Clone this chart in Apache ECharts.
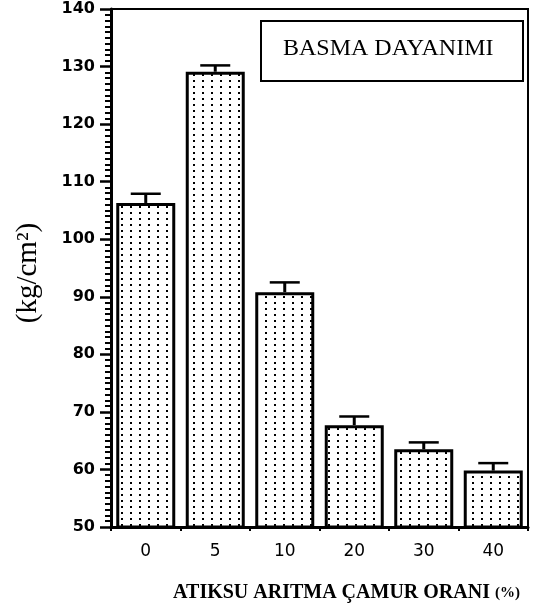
<!DOCTYPE html>
<html>
<head>
<meta charset="utf-8">
<script src="https://cdn.jsdelivr.net/npm/echarts@6/dist/echarts.min.js"></script>
<style>
  html, body { margin: 0; padding: 0; background: #fff; }
  #chart { width: 534px; height: 614px; }
</style>
</head>
<body>
<div id="chart"></div>
<script>
const categories = ['0', '5', '10', '20', '30', '40'];
const strength = [106.3, 129.1, 90.8, 67.7, 63.5, 59.8];
const errors = [1.6, 1.1, 1.7, 1.5, 1.2, 1.3];
const yTicks = [50, 60, 70, 80, 90, 100, 110, 120, 130, 140];

// dotted fill pattern
const tile = document.createElement('canvas');
tile.width = 9; tile.height = 6;
const tctx = tile.getContext('2d');
tctx.fillStyle = '#fff';
tctx.fillRect(0, 0, 9, 6);
tctx.fillStyle = '#000';
tctx.fillRect(4, 2, 2, 2);

const errData = categories.map((c, i) => [i, strength[i], strength[i] + errors[i]]);

const chart = echarts.init(document.getElementById('chart'), null, { renderer: 'canvas' });
chart.setOption({
  animation: false,
  backgroundColor: '#fff',
  grid: {
    left: 111, right: 6, top: 9, bottom: 87,
    show: true, borderColor: '#000', borderWidth: 2, backgroundColor: 'transparent'
  },
  xAxis: {
    type: 'category',
    data: categories,
    axisLine: { lineStyle: { color: '#000', width: 3 } },
    axisTick: { show: true, length: 4, lineStyle: { color: '#000', width: 2 } },
    axisLabel: {
      color: '#000', fontFamily: 'DejaVu Sans', fontSize: 17, margin: 16
    },
    name: 'ATIKSU ARITMA ÇAMUR ORANI {s|(%)}',
    nameLocation: 'middle',
    nameGap: 56,
    nameTextStyle: {
      color: '#000', fontFamily: 'Liberation Serif', fontWeight: 'bold', fontSize: 20,
      padding: [0, 0, 0, 54],
      rich: { s: { fontFamily: 'Liberation Serif', fontWeight: 'bold', fontSize: 15, color: '#000' } }
    }
  },
  yAxis: {
    type: 'value',
    min: yTicks[0],
    max: yTicks[yTicks.length - 1],
    interval: 10,
    axisLine: { show: true, lineStyle: { color: '#000', width: 3 } },
    axisTick: { show: true, length: 11, lineStyle: { color: '#000', width: 2.5 } },
    minorTick: { show: true, splitNumber: 10, length: 6, lineStyle: { color: '#000', width: 2 } },
    splitLine: { show: false },
    axisLabel: {
      color: '#000', fontFamily: 'DejaVu Sans', fontWeight: 'bold', fontSize: 16, margin: 16
    },
    name: '(kg/cm²)',
    nameLocation: 'middle',
    nameRotate: 90,
    nameGap: 68,
    nameTextStyle: { color: '#000', fontFamily: 'Liberation Serif', fontSize: 29, padding: [0, 10, 0, 0] }
  },
  series: [
    {
      type: 'bar',
      data: strength,
      barWidth: 59,
      itemStyle: {
        color: { image: tile, repeat: 'repeat' },
        borderColor: '#000',
        borderWidth: 3
      },
      z: 2
    },
    {
      type: 'custom',
      data: errData,
      z: 3,
      renderItem: function (params, api) {
        const base = api.coord([api.value(0), api.value(1)]);
        const top = api.coord([api.value(0), api.value(2)]);
        const half = 15;
        return {
          type: 'group',
          children: [
            { type: 'line', shape: { x1: base[0], y1: base[1], x2: top[0], y2: top[1] },
              style: { stroke: '#000', lineWidth: 3 } },
            { type: 'line', shape: { x1: top[0] - half, y1: top[1], x2: top[0] + half, y2: top[1] },
              style: { stroke: '#000', lineWidth: 2.5 } }
          ]
        };
      }
    }
  ],
  graphic: [
    {
      type: 'group',
      left: 260, top: 20,
      z: 10,
      children: [
        { type: 'rect', shape: { x: 0, y: 0, width: 262, height: 60 },
          style: { fill: '#fff', stroke: '#000', lineWidth: 2 } },
        { type: 'text', x: 22, y: 28,
          style: { text: 'BASMA DAYANIMI', fill: '#000', font: '24px "Liberation Serif"',
                   verticalAlign: 'middle', align: 'left' } }
      ]
    }
  ]
});
</script>
</body>
</html>
